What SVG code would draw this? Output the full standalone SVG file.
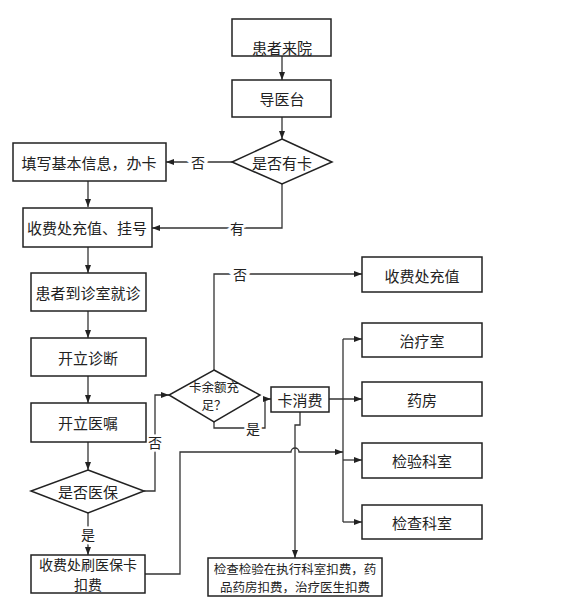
<svg xmlns="http://www.w3.org/2000/svg" width="562" height="603" viewBox="0 0 562 603">
<style>
.box{fill:#fff;stroke:#222;stroke-width:1.5}
.ln{fill:none;stroke:#333;stroke-width:1.3}
.t{font-family:"Noto Sans CJK SC","Liberation Sans",sans-serif;font-size:15px;fill:#222;text-anchor:middle;dominant-baseline:central}
.m{font-size:14px}
.s{font-size:12.5px}
.lb{font-family:"Noto Sans CJK SC","Liberation Sans",sans-serif;font-size:14px;fill:#222;text-anchor:middle;dominant-baseline:central;stroke:#fff;stroke-width:5px;paint-order:stroke}
</style>
<defs>
<marker id="ar" markerUnits="userSpaceOnUse" markerWidth="8" markerHeight="8" viewBox="0 0 8 8" refX="8" refY="4" orient="auto">
<path d="M0,1 L8,4 L0,7 Z" fill="#222"/>
</marker>
</defs>
<rect width="562" height="603" fill="#fff"/>
<g id="connectors">
<path class="ln" d="M282,56 V80" marker-end="url(#ar)"/>
<path class="ln" d="M282,117 V139" marker-end="url(#ar)"/>
<path class="ln" d="M232,162 H166" marker-end="url(#ar)"/>
<path class="ln" d="M282,184 V228 H152" marker-end="url(#ar)"/>
<path class="ln" d="M88,181 V207" marker-end="url(#ar)"/>
<path class="ln" d="M88,247 V273" marker-end="url(#ar)"/>
<path class="ln" d="M88,311 V338" marker-end="url(#ar)"/>
<path class="ln" d="M88,376 V403" marker-end="url(#ar)"/>
<path class="ln" d="M88,442 V470" marker-end="url(#ar)"/>
<path class="ln" d="M88,513 V555" marker-end="url(#ar)"/>
<path class="ln" d="M144,491 H155 V395 H169" marker-end="url(#ar)"/>
<path class="ln" d="M214,370 V274 H362" marker-end="url(#ar)"/>
<path class="ln" d="M214,422 V428 H265 V399 H271" marker-end="url(#ar)"/>
<path class="ln" d="M329,399 H362" marker-end="url(#ar)"/>
<path class="ln" d="M343,339 V522"/>
<path class="ln" d="M343,339 H362" marker-end="url(#ar)"/>
<path class="ln" d="M343,460 H362" marker-end="url(#ar)"/>
<path class="ln" d="M343,522 H362" marker-end="url(#ar)"/>
<path class="ln" d="M145,574 H180 V452 H291 A4,4 0 0 1 299,452 H343" marker-end="url(#ar)"/>
<path class="ln" d="M300,412 V425 H295 V558" marker-end="url(#ar)"/>
<text class="lb" x="198" y="162">否</text>
<text class="lb" x="237" y="228">有</text>
<text class="lb" x="155" y="442">否</text>
<text class="lb" x="240" y="274">否</text>
<text class="lb" x="253" y="428">是</text>
<text class="lb" x="88" y="534">是</text>
</g>
<g id="n1"><rect class="box" x="232" y="19" width="99" height="37"/><text class="t" x="282" y="47">患者来院</text></g>
<g id="n2"><rect class="box" x="232" y="80" width="99" height="37"/><text class="t" x="282" y="98">导医台</text></g>
<g id="n3"><polygon class="box" points="282,139 332,162 282,184 232,162"/><text class="t" x="282" y="162">是否有卡</text></g>
<g id="n4"><rect class="box" x="13" y="143" width="153" height="38"/><text class="t" x="89" y="162">填写基本信息，办卡</text></g>
<g id="n5"><rect class="box" x="23" y="208" width="129" height="39"/><text class="t" x="87" y="227">收费处充值、挂号</text></g>
<g id="n6"><rect class="box" x="31" y="273" width="115" height="38"/><text class="t" x="88" y="292">患者到诊室就诊</text></g>
<g id="n7"><rect class="box" x="31" y="338" width="115" height="38"/><text class="t" x="88" y="357">开立诊断</text></g>
<g id="n8"><rect class="box" x="31" y="403" width="115" height="39"/><text class="t" x="88" y="422">开立医嘱</text></g>
<g id="n9"><polygon class="box" points="88,470 144,491 88,513 31,491"/><text class="t" x="88" y="491">是否医保</text></g>
<g id="n10"><rect class="box" x="31" y="555" width="114" height="38"/><text class="t m" x="88" y="564">收费处刷医保卡</text><text class="t m" x="88" y="584">扣费</text></g>
<g id="n11"><polygon class="box" points="214,370 260,395 214,422 169,395"/><text class="t s" x="214" y="386">卡余额充</text><text class="t s" x="214" y="404">足？</text></g>
<g id="n12"><rect class="box" x="271" y="387" width="58" height="25"/><text class="t" x="300" y="399">卡消费</text></g>
<g id="n13"><rect class="box" x="362" y="257" width="120" height="35"/><text class="t" x="422" y="275">收费处充值</text></g>
<g id="n14"><rect class="box" x="362" y="323" width="120" height="34"/><text class="t" x="422" y="340">治疗室</text></g>
<g id="n15"><rect class="box" x="362" y="382" width="120" height="34"/><text class="t" x="422" y="399">药房</text></g>
<g id="n16"><rect class="box" x="362" y="443" width="120" height="35"/><text class="t" x="422" y="460">检验科室</text></g>
<g id="n17"><rect class="box" x="362" y="505" width="120" height="34"/><text class="t" x="422" y="522">检查科室</text></g>
<g id="n18"><rect class="box" x="208" y="558" width="174" height="38"/><text class="t s" x="295" y="568">检查检验在执行科室扣费，药</text><text class="t s" x="295" y="586">品药房扣费，治疗医生扣费</text></g>
</svg>
